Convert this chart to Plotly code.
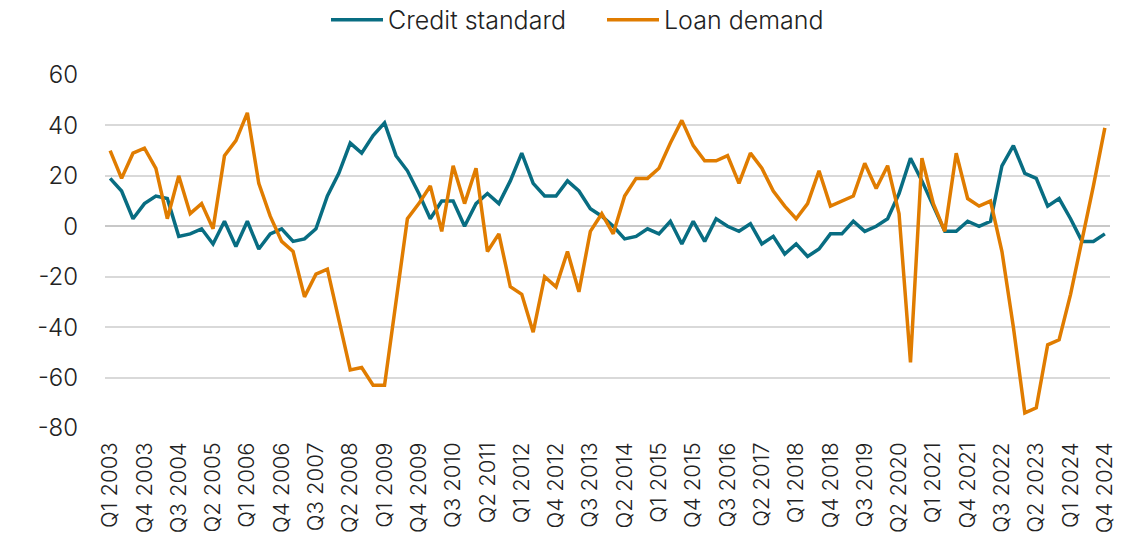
import plotly.graph_objects as go

quarters = [f"Q{q} {y}" for y in range(2003, 2025) for q in range(1, 5)]

credit_standard = [19, 14, 3, 9, 12, 11, -4, -3, -1, -7, 2, -8, 2, -9, -3, -1, -6, -5, -1, 12,
                   21, 33, 29, 36, 41, 28, 22, 13, 3, 10, 10, 0, 9, 13, 9, 18, 29, 17, 12, 12,
                   18, 14, 7, 4, 0, -5, -4, -1, -3, 2, -7, 2, -6, 3, 0, -2, 1, -7, -4, -11,
                   -7, -12, -9, -3, -3, 2, -2, 0, 3, 13, 27, 18, 8, -2, -2, 2, 0, 2, 24, 32,
                   21, 19, 8, 11, 3, -6, -6, -3]

loan_demand = [30, 19, 29, 31, 23, 3, 20, 5, 9, -1, 28, 34, 45, 17, 4, -6, -10, -28, -19, -17,
               -37, -57, -56, -63, -63, -30, 3, 9, 16, -2, 24, 9, 23, -10, -3, -24, -27, -42, -20, -24,
               -10, -26, -2, 5, -3, 12, 19, 19, 23, 33, 42, 32, 26, 26, 28, 17, 29, 23, 14, 8,
               3, 9, 22, 8, 10, 12, 25, 15, 24, 5, -54, 27, 9, -2, 29, 11, 8, 10, -10, -40,
               -74, -72, -47, -45, -27, -6, 16, 39]

tick_labels = quarters[::3]
y_ticks = [60, 40, 20, 0, -20, -40, -60, -80]
y_tick_text = ["60", "40", "20", "0", "-20", "-40", "-60", "-80"]

TEAL = "#086D82"
ORANGE = "#E07C00"
FONT = "Inter"

fig = go.Figure()
fig.add_trace(go.Scatter(x=quarters, y=credit_standard, mode="lines", name="Credit standard",
                         line=dict(color=TEAL, width=3.5)))
fig.add_trace(go.Scatter(x=quarters, y=loan_demand, mode="lines", name="Loan demand",
                         line=dict(color=ORANGE, width=3.5)))

fig.update_layout(
    width=1130, height=544,
    margin=dict(l=105, r=20, t=75, b=116, autoexpand=False),
    paper_bgcolor="white", plot_bgcolor="white",
    font=dict(family=FONT, size=23, color="#222222", weight=300),
    legend=dict(orientation="h", x=0.2199, xanchor="left", y=1.156, yanchor="middle",
                yref="paper", font=dict(size=25, weight=300), itemwidth=52,
                entrywidth=209, entrywidthmode="pixels", tracegroupgap=0),
    showlegend=True,
)
fig.update_xaxes(type="category", tickmode="array", tickvals=tick_labels, ticktext=tick_labels,
                 tickangle=-90, showgrid=False, showline=False, ticks="",
                 range=[-0.45, len(quarters) - 0.55], ticklabelstandoff=9,
                 tickfont=dict(size=22, weight=300))
fig.update_yaxes(range=[-80, 60], tickvals=y_ticks, ticktext=y_tick_text, showgrid=True,
                 gridcolor="#D9D9D9", gridwidth=1.5, zeroline=True, zerolinecolor="#C8C8C8",
                 zerolinewidth=2, ticks="", ticklabelstandoff=26,
                 tickfont=dict(size=24, weight=300))

fig.write_html("out.html", config={"displayModeBar": False},
               post_script="document.body.style.margin='0';document.body.style.overflow='hidden';")
